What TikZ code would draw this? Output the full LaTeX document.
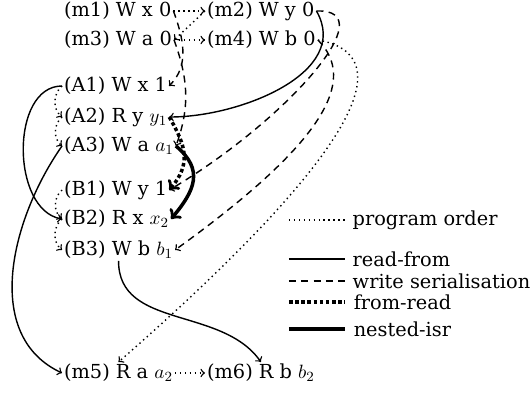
\documentclass[tikz,border=0pt]{standalone}
\usepackage{fontspec}
\setmainfont{DejaVu Serif}
\begin{document}
\begin{tikzpicture}[
    every node/.style={inner sep=1pt, font=\fontsize{11}{13}\selectfont},
    po/.style={->, thick, dotted},
    rf/.style={->, thick},
    ws/.style={->, thick, dash pattern=on 4pt off 3pt},
    fr/.style={->, line width=2pt, dash pattern=on 2pt off 1.5pt},
    nisr/.style={->, line width=2pt}]
    \useasboundingbox (0,0) rectangle (10.64,7.94);
    % initial writes
    \node (m1) at (1.24,7.72) [anchor=west] {(m1) W x 0};
    \node (m2) at (4.10,7.72) [anchor=west] {(m2) W y 0};
    \node (m3) at (1.24,7.14) [anchor=west] {(m3) W a 0};
    \node (m4) at (4.10,7.14) [anchor=west] {(m4) W b 0};
    % thread A
    \node (A1) at (1.24,6.22) [anchor=west] {(A1) W x 1};
    \node (A2) at (1.24,5.60) [anchor=west] {(A2) R y $y_1$};
    \node (A3) at (1.24,5.02) [anchor=west] {(A3) W a $a_1$};
    % thread B
    \node (B1) at (1.24,4.14) [anchor=west] {(B1) W y 1};
    \node (B2) at (1.24,3.56) [anchor=west] {(B2) R x $x_2$};
    \node (B3) at (1.24,2.94) [anchor=west] {(B3) W b $b_1$};
    % final reads
    \node (m5) at (1.24,0.48) [anchor=west] {(m5) R a $a_2$};
    \node (m6) at (4.10,0.48) [anchor=west] {(m6) R b $b_2$};

    % program order
    \draw[po] (m1.east) -- (m2.west);
    \draw[po] (m2.west) -- (m3.east);
    \draw[po] (m3.east) -- (m4.west);
    \draw[po] (m4.east) .. controls +(1.7,-0.3) and +(4.8,4.2) .. (m5.north);
    \draw[po] (m5.east) -- (m6.west);
    \draw[po] (A1.west) to[bend right=50] (A2.west);
    \draw[po] (A2.west) to[bend right=50] (A3.west);
    \draw[po] (B1.west) to[bend right=50] (B2.west);
    \draw[po] (B2.west) to[bend right=50] (B3.west);

    % read-from
    \draw[rf] (m2.east) to[out=-60,in=0] (A2.east);
    \draw[rf] (A1.west) to[out=180,in=170] (B2.west);
    \draw[rf] (A3.west) to[out=-125,in=155] (m5.west);
    \draw[rf] (B3.south) to[out=-90,in=125] (m6.north);

    % write serialisation
    \draw[ws] (m1.east) to[out=-70,in=45] (A1.east);
    \draw[ws] (m3.east) to[out=-70,in=70] (A3.east);
    \draw[ws] (m2.east) .. controls +(1.4,0.05) and +(2.3,1.36) .. (B1.east);
    \draw[ws] (m4.east) .. controls +(0.8,-0.8) and +(3.0,2.16) .. (B3.east);

    % from-read and nested-isr
    \draw[fr] (A2.east) to[out=-60,in=50,looseness=1.2] (B1.east);
    \draw[nisr] (A3.east) to[out=-40,in=50,looseness=1.3] (B2.east);

    % key
    \coordinate (k1) at (5.78,3.54);
    \coordinate (k2) at (5.78,2.76);
    \coordinate (k3) at (5.78,2.32);
    \coordinate (k4) at (5.78,1.90);
    \coordinate (k5) at (5.78,1.36);
    \draw[po,-] (k1) -- ++(1.12,0) node[anchor=west, xshift=3pt] (kpo) {program order};
    \draw[rf,-] (k2) -- ++(1.12,0) node[anchor=west, xshift=3pt] (krf) {read-from};
    \draw[ws,-] (k3) -- ++(1.12,0) node[anchor=west, xshift=3pt] (kws) {write serialisation};
    \draw[fr,-] (k4) -- ++(1.12,0) node[anchor=west, xshift=3pt] (kfr) {from-read};
    \draw[nisr,-] (k5) -- ++(1.12,0) node[anchor=west, xshift=3pt] (knisr) {nested-isr};
\end{tikzpicture}
\end{document}
